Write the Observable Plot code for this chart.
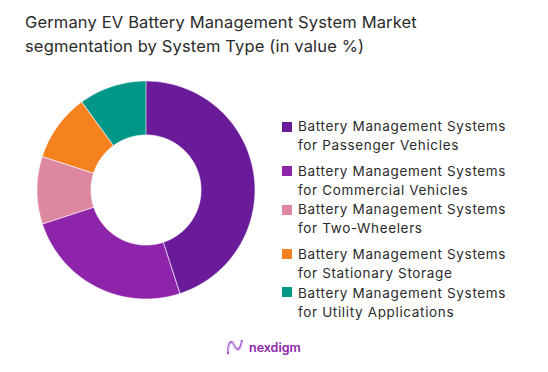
<!DOCTYPE html>
<html>
<head>
<meta charset="utf-8">
<script src="https://cdn.jsdelivr.net/npm/d3@7"></script>
<script src="https://cdn.jsdelivr.net/npm/@observablehq/plot@0.6"></script>
<style>
  html, body { margin: 0; padding: 0; background: #fff; }
  #wrap { position: relative; width: 548px; height: 372px; overflow: hidden; font-family: Inter, "Noto Sans", sans-serif; }
  #chart { position: absolute; left: 0; top: 0; }
  #title { position: absolute; left: 25px; top: 11px; font-size: 16.5px; line-height: 23.5px; color: #2b2b2b; letter-spacing: 0.15px; }
  #legend { position: absolute; left: 0; top: 0; }
  .item { position: absolute; left: 282px; font-size: 13.5px; line-height: 18.5px; color: #2b2b2b; letter-spacing: 0.65px; }
  .sw { position: absolute; left: 0; width: 10px; height: 10px; }
  .lab { position: absolute; left: 16px; top: 0; white-space: nowrap; }
  #logo { position: absolute; left: 226px; top: 338px; display: flex; align-items: center; gap: 5px; }
  #logo span { font-size: 12.5px; font-weight: 600; color: #8e24aa; }
</style>
</head>
<body>
<div id="wrap">
  <div id="chart"></div>
  <div id="title">Germany EV Battery Management System Market<br>segmentation by System Type (in value %)</div>
  <div id="legend"></div>
  <div id="logo">
    <svg width="18" height="18" viewBox="0 0 18 18"><path d="M2 16 C2 4, 5 1, 8 7 C11 13, 14 14, 16 2" fill="none" stroke="#9c4dcc" stroke-width="2"/><path d="M2 14 C3 3, 6 3, 9 9 C12 15, 15 12, 16 3" fill="none" stroke="#d9a8ef" stroke-width="1.2"/></svg>
    <span>nexdigm</span>
  </div>
</div>
<script>
const categories = [
  "Battery Management Systems for Passenger Vehicles",
  "Battery Management Systems for Commercial Vehicles",
  "Battery Management Systems for Two-Wheelers",
  "Battery Management Systems for Stationary Storage",
  "Battery Management Systems for Utility Applications"
];
const legendLine1 = ["Battery Management Systems","Battery Management Systems","Battery Management Systems","Battery Management Systems","Battery Management Systems"];
const legendLine2 = ["for Passenger Vehicles","for Commercial Vehicles","for Two-Wheelers","for Stationary Storage","for Utility Applications"];
const values = [45, 25, 10, 10, 10];
const colors = ["#6a1b9a", "#8e24aa", "#de87a1", "#f5821f", "#009688"];

const outerR = 1, innerR = 0.505;
const arcs = d3.pie().sort(null).value(d => d)(values);
const rows = [];
arcs.forEach((a, i) => {
  const n = 80;
  for (let k = 0; k <= n; k++) {
    const t = a.startAngle + (a.endAngle - a.startAngle) * k / n;
    rows.push({
      cat: categories[i],
      xo: outerR * Math.sin(t), yo: outerR * Math.cos(t),
      xi: innerR * Math.sin(t), yi: innerR * Math.cos(t)
    });
  }
});

const chart = Plot.plot({
  width: 548,
  height: 372,
  marginLeft: 37,
  marginRight: 293,
  marginTop: 81,
  marginBottom: 73,
  x: { domain: [-1, 1], axis: null },
  y: { domain: [-1, 1], axis: null },
  color: { domain: categories, range: colors },
  marks: [
    Plot.area(rows, { x1: "xo", y1: "yo", x2: "xi", y2: "yi", z: "cat", fill: "cat", stroke: "white", strokeWidth: 0.6 })
  ]
});
document.getElementById("chart").appendChild(chart);

const itemTops = [117, 162, 200, 245, 284];
const swTops = [4.5, 3.5, 5, 4, 3];
const legend = document.getElementById("legend");
categories.forEach((c, i) => {
  const it = document.createElement("div");
  it.className = "item";
  it.style.top = itemTops[i] + "px";
  it.innerHTML = `<div class="sw" style="top:${swTops[i]}px;background:${colors[i]}"></div><div class="lab">${legendLine1[i]}<br>${legendLine2[i]}</div>`;
  legend.appendChild(it);
});
</script>
</body>
</html>
